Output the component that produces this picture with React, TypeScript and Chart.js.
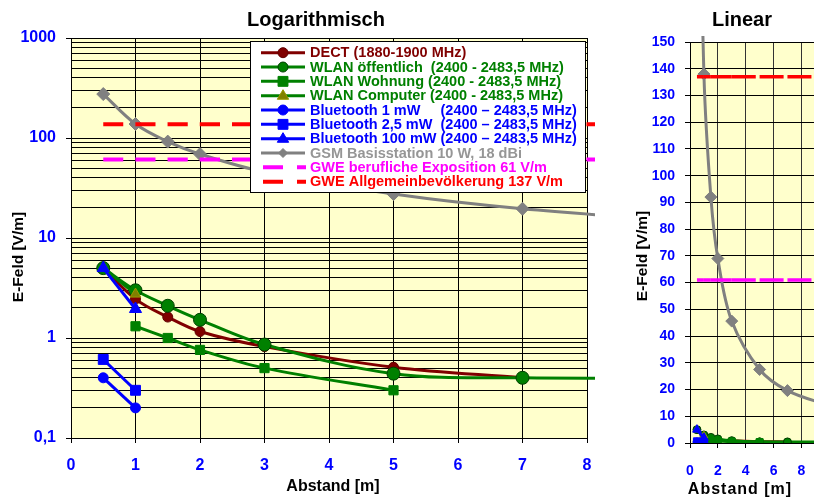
import React, { useEffect, useRef } from 'react';
import { Chart, registerables } from 'chart.js';

Chart.register(...registerables);

const FONT = '"Liberation Sans", Arial, Helvetica, sans-serif';

// ---------- data ----------
const dectX = [0.5, 1, 1.5, 2, 3, 5, 7];
const dectY = [5, 2.45, 1.62, 1.16, 0.82, 0.51, 0.4];
const wlanOeffX = [0.5, 1, 1.5, 2, 3, 5, 7, 10];
const wlanOeffY = [5, 3, 2.1, 1.52, 0.86, 0.44, 0.4, 0.4];
const wlanWohnX = [1, 1.5, 2, 3, 5];
const wlanWohnY = [1.31, 1.0, 0.76, 0.5, 0.3];
const wlanCompX = [0.5, 1];
const wlanCompY = [5, 2.75];
const bt1X = [0.5, 1];
const bt1Y = [0.4, 0.2];
const bt25X = [0.5, 1];
const bt25Y = [0.61, 0.3];
const bt100X = [0.5, 1];
const bt100Y = [5, 1.95];
const gsmX = [0.5, 1, 1.5, 2, 3, 5, 7, 10];
const gsmY = [275, 138, 92, 69, 45.6, 27.5, 19.6, 14];
const gweX = [0.5, 1, 1.5, 2, 3, 5, 7, 10];
const gweBerufY = [61, 61, 61, 61, 61, 61, 61, 61];
const gweAllgY = [137, 137, 137, 137, 137, 137, 137, 137];

const seriesLabels = [
  'DECT (1880-1900 MHz)',
  'WLAN öffentlich  (2400 - 2483,5 MHz)',
  'WLAN Wohnung (2400 - 2483,5 MHz)',
  'WLAN Computer (2400 - 2483,5 MHz)',
  'Bluetooth 1 mW     (2400 – 2483,5 MHz)',
  'Bluetooth 2,5 mW  (2400 – 2483,5 MHz)',
  'Bluetooth 100 mW (2400 – 2483,5 MHz)',
  'GSM Basisstation 10 W, 18 dBi',
  'GWE berufliche Exposition 61 V/m',
  'GWE Allgemeinbevölkerung 137 V/m',
];

const logDecadeValues = [0.1, 1, 10, 100, 1000];
const logDecadeLabels = ['0,1', '1', '10', '100', '1000'];

const titleLog = 'Logarithmisch';
const titleLin = 'Linear';
const xTitle = 'Abstand [m]';
const yTitle = 'E-Feld [V/m]';

// ---------- styles ----------
type Def = {
  x: number[]; y: number[]; line: string; fill: string; stroke: string; text: string;
  point: string | null; rLog: number; rLin: number; rLeg: number; tension: number; dash?: boolean;
};

const SERIES: Def[] = [
  { x: dectX, y: dectY, line: '#800000', fill: '#800000', stroke: '#600000', text: '#800000', point: 'circle', rLog: 5, rLin: 3.5, rLeg: 5, tension: 0.35 },
  { x: wlanOeffX, y: wlanOeffY, line: '#008000', fill: '#008000', stroke: '#004000', text: '#008000', point: 'circle', rLog: 6.5, rLin: 4, rLeg: 5, tension: 0.35 },
  { x: wlanWohnX, y: wlanWohnY, line: '#008000', fill: '#008000', stroke: '#008000', text: '#008000', point: 'rect', rLog: 6.5, rLin: 5, rLeg: 7, tension: 0.35 },
  { x: wlanCompX, y: wlanCompY, line: '#008000', fill: '#808000', stroke: '#999900', text: '#008000', point: 'triangle', rLog: 6, rLin: 4.5, rLeg: 6, tension: 0 },
  { x: bt1X, y: bt1Y, line: '#0000FF', fill: '#0000FF', stroke: '#0000FF', text: '#0000FF', point: 'circle', rLog: 5, rLin: 4, rLeg: 5, tension: 0 },
  { x: bt25X, y: bt25Y, line: '#0000FF', fill: '#0000FF', stroke: '#0000FF', text: '#0000FF', point: 'rect', rLog: 7, rLin: 5, rLeg: 7, tension: 0 },
  { x: bt100X, y: bt100Y, line: '#0000FF', fill: '#0000FF', stroke: '#0000FF', text: '#0000FF', point: 'triangle', rLog: 7, rLin: 5, rLeg: 6, tension: 0 },
  { x: gsmX, y: gsmY, line: '#808080', fill: '#808080', stroke: '#808080', text: '#969696', point: 'rectRot', rLog: 6.5, rLin: 6, rLeg: 4.5, tension: 0.35 },
  { x: gweX, y: gweBerufY, line: '#FF00FF', fill: '#FF00FF', stroke: '#FF00FF', text: '#FF00FF', point: null, rLog: 0, rLin: 0, rLeg: 0, tension: 0, dash: true },
  { x: gweX, y: gweAllgY, line: '#FF0000', fill: '#FF0000', stroke: '#FF0000', text: '#FF0000', point: null, rLog: 0, rLin: 0, rLeg: 0, tension: 0, dash: true },
];

function buildDatasets(isLog: boolean) {
  return SERIES.map((s, i) => {
    const ds: any = {
      label: seriesLabels[i],
      data: s.x.map((x, j) => ({ x, y: s.y[j] })),
      borderColor: s.line,
      backgroundColor: s.fill,
      pointBackgroundColor: s.fill,
      pointBorderColor: s.stroke,
      pointBorderWidth: 1,
      pointStyle: s.point || 'circle',
      pointRadius: s.point ? (isLog ? s.rLog : s.rLin) : 0,
      pointHoverRadius: s.point ? (isLog ? s.rLog : s.rLin) : 0,
      borderWidth: s.dash ? (isLog ? 4 : 3.5) : 3,
      tension: s.tension,
      fill: false,
      order: SERIES.length - i,
      clip: { left: 0, top: isLog ? 0 : 6, right: 8, bottom: 0 },
    };
    if (s.dash) {
      ds.borderDash = isLog ? [20, 12] : [24, 6];
      ds.segment = { borderDashOffset: (c: any) => (c.p0DataIndex % 2) * 0.001 };
    }
    return ds;
  });
}

function drawMarker(ctx: CanvasRenderingContext2D, style: string, x: number, y: number, r: number, fill: string, stroke: string) {
  ctx.beginPath();
  if (style === 'circle') ctx.arc(x, y, r, 0, Math.PI * 2);
  else if (style === 'rect') { const h = r * Math.SQRT1_2; ctx.rect(x - h, y - h, 2 * h, 2 * h); }
  else if (style === 'triangle') { ctx.moveTo(x, y - r); ctx.lineTo(x + r * 0.95, y + r * 0.6); ctx.lineTo(x - r * 0.95, y + r * 0.6); ctx.closePath(); }
  else if (style === 'rectRot') { ctx.moveTo(x, y - r); ctx.lineTo(x + r, y); ctx.lineTo(x, y + r); ctx.lineTo(x - r, y); ctx.closePath(); }
  ctx.fillStyle = fill; ctx.fill();
  ctx.strokeStyle = stroke; ctx.lineWidth = 1; ctx.stroke();
}

const bgPlugin = {
  id: 'plotBg',
  beforeDraw(chart: any) {
    const { ctx, chartArea: a } = chart;
    ctx.save();
    ctx.fillStyle = '#FFFFCC';
    ctx.fillRect(a.left, a.top, a.right - a.left, a.bottom - a.top);
    ctx.restore();
  },
};

type TextItem = { text: string; x: number; y: number; size: number; rot?: number; spacing?: string; color?: string };
function textPlugin(items: TextItem[]) {
  return {
    id: 'texts',
    afterDraw(chart: any) {
      const ctx: CanvasRenderingContext2D = chart.ctx;
      items.forEach((t) => {
        ctx.save();
        ctx.font = `bold ${t.size}px ${FONT}`;
        ctx.fillStyle = t.color || '#000';
        ctx.textAlign = 'center';
        ctx.textBaseline = 'middle';
        if (t.spacing) (ctx as any).letterSpacing = t.spacing;
        ctx.translate(t.x, t.y);
        if (t.rot) ctx.rotate(t.rot);
        ctx.fillText(t.text, 0, 0);
        ctx.restore();
      });
    },
  };
}

const legendPlugin = {
  id: 'customLegend',
  afterDraw(chart: any) {
    const ctx: CanvasRenderingContext2D = chart.ctx;
    ctx.save();
    const bx = 250.5, by = 41.5, bw = 335, bh = 151;
    ctx.fillStyle = '#FFFFFF';
    ctx.fillRect(bx, by, bw, bh);
    ctx.strokeStyle = '#000';
    ctx.lineWidth = 1;
    ctx.strokeRect(bx, by, bw, bh);
    SERIES.forEach((s, i) => {
      const y = 52.7 + i * 14.33;
      ctx.beginPath();
      ctx.strokeStyle = s.line;
      ctx.lineWidth = s.dash ? 4 : 3;
      if (s.dash) {
        ctx.setLineDash([20, 14]);
        ctx.moveTo(263, y); ctx.lineTo(306, y);
      } else {
        ctx.setLineDash([]);
        ctx.moveTo(261, y); ctx.lineTo(305, y);
      }
      ctx.stroke();
      ctx.setLineDash([]);
      if (s.point) drawMarker(ctx, s.point, 283, y, s.rLeg, s.fill, s.stroke);
      ctx.font = `bold 14.5px ${FONT}`;
      ctx.fillStyle = s.text;
      ctx.textAlign = 'left';
      ctx.textBaseline = 'middle';
      ctx.fillText(seriesLabels[i], 310, y + 0.5);
    });
    ctx.restore();
  },
};

function isDecade(v: number) {
  const l = Math.log10(v);
  return Math.abs(l - Math.round(l)) < 1e-9;
}

const logTickValues: number[] = [];
logDecadeValues.forEach((d, i) => {
  if (i === logDecadeValues.length - 1) { logTickValues.push(d); return; }
  for (let k = 1; k <= 9; k++) logTickValues.push(Number((d * k).toPrecision(6)));
});

function buildLogConfig(): any {
  return {
    type: 'line',
    data: { datasets: buildDatasets(true) },
    options: {
      animation: false,
      responsive: false,
      maintainAspectRatio: false,
      devicePixelRatio: 1,
      events: [],
      layout: { padding: { top: 38, right: 25, left: 0, bottom: 0 } },
      plugins: { legend: { display: false }, title: { display: false }, tooltip: { enabled: false } },
      scales: {
        x: {
          type: 'linear', min: 0, max: 8,
          ticks: { stepSize: 1, color: '#0000FF', font: { family: FONT, size: 16, weight: 'bold' }, padding: 13, maxRotation: 0 },
          grid: { color: '#000', lineWidth: 1, tickLength: 5, tickColor: '#000' },
          border: { color: '#000', width: 1 },
          afterFit: (s: any) => { s.height = 64; },
        },
        y: {
          type: 'logarithmic', min: 0.1, max: 1000,
          afterBuildTicks: (s: any) => { s.ticks = logTickValues.map((v) => ({ value: v })); },
          ticks: {
            autoSkip: false,
            color: '#0000FF',
            font: { family: FONT, size: 16, weight: 'bold' },
            padding: 10,
            callback: (v: number) => {
              const i = logDecadeValues.findIndex((d) => Math.abs(d - v) < d * 1e-6);
              return i >= 0 ? logDecadeLabels[i] : '';
            },
          },
          grid: {
            color: '#000', lineWidth: 1, tickLength: 5,
            tickColor: (c: any) => (c.tick && isDecade(c.tick.value) ? '#000' : 'rgba(0,0,0,0)'),
          },
          border: { color: '#000', width: 1 },
          afterFit: (s: any) => { s.width = 71; },
        },
      },
    },
    plugins: [
      bgPlugin,
      legendPlugin,
      textPlugin([
        { text: titleLog, x: 316, y: 20, size: 20 },
        { text: xTitle, x: 333, y: 487, size: 16 },
        { text: yTitle, x: 19, y: 257, size: 15.5, rot: -Math.PI / 2 },
      ]),
    ],
  };
}

function buildLinConfig(): any {
  return {
    type: 'line',
    data: { datasets: buildDatasets(false) },
    options: {
      animation: false,
      responsive: false,
      maintainAspectRatio: false,
      devicePixelRatio: 1,
      events: [],
      layout: { padding: { top: 42, right: 12, left: 0, bottom: 0 } },
      plugins: { legend: { display: false }, title: { display: false }, tooltip: { enabled: false } },
      scales: {
        x: {
          type: 'linear', min: 0, max: 10,
          ticks: { stepSize: 2, color: '#0000FF', font: { family: FONT, size: 14, weight: 'bold' }, padding: 15, maxRotation: 0 },
          grid: { color: '#333', lineWidth: 1, tickLength: 5, tickColor: '#000' },
          border: { color: '#000', width: 1 },
          afterFit: (s: any) => { s.height = 59; },
        },
        y: {
          type: 'linear', min: 0, max: 150,
          ticks: { stepSize: 10, color: '#0000FF', font: { family: FONT, size: 14, weight: 'bold' }, padding: 10 },
          grid: { color: '#000', lineWidth: 1, tickLength: 5, tickColor: '#000' },
          border: { color: '#000', width: 1 },
          afterFit: (s: any) => { s.width = 78; },
        },
      },
    },
    plugins: [
      bgPlugin,
      textPlugin([
        { text: titleLin, x: 130, y: 20, size: 20 },
        { text: xTitle, x: 128, y: 490, size: 16, spacing: '1px' },
        { text: yTitle, x: 31, y: 256, size: 15.5, rot: -Math.PI / 2 },
      ]),
    ],
  };
}

function ChartCanvas({ width, height, left, build }: { width: number; height: number; left: number; build: () => any }) {
  const ref = useRef<HTMLCanvasElement>(null);
  useEffect(() => {
    if (!ref.current) return;
    const chart = new Chart(ref.current, build());
    return () => chart.destroy();
  }, []);
  return (
    <canvas
      ref={ref}
      width={width}
      height={height}
      style={{ position: 'absolute', left, top: 0, width, height, display: 'block' }}
    />
  );
}

export default function App() {
  return (
    <div style={{ position: 'absolute', left: 0, top: 0, width: 814, height: 502, overflow: 'hidden', background: '#FFFFFF' }}>
      <ChartCanvas width={612} height={502} left={0} build={buildLogConfig} />
      <ChartCanvas width={240} height={502} left={612} build={buildLinConfig} />
    </div>
  );
}
